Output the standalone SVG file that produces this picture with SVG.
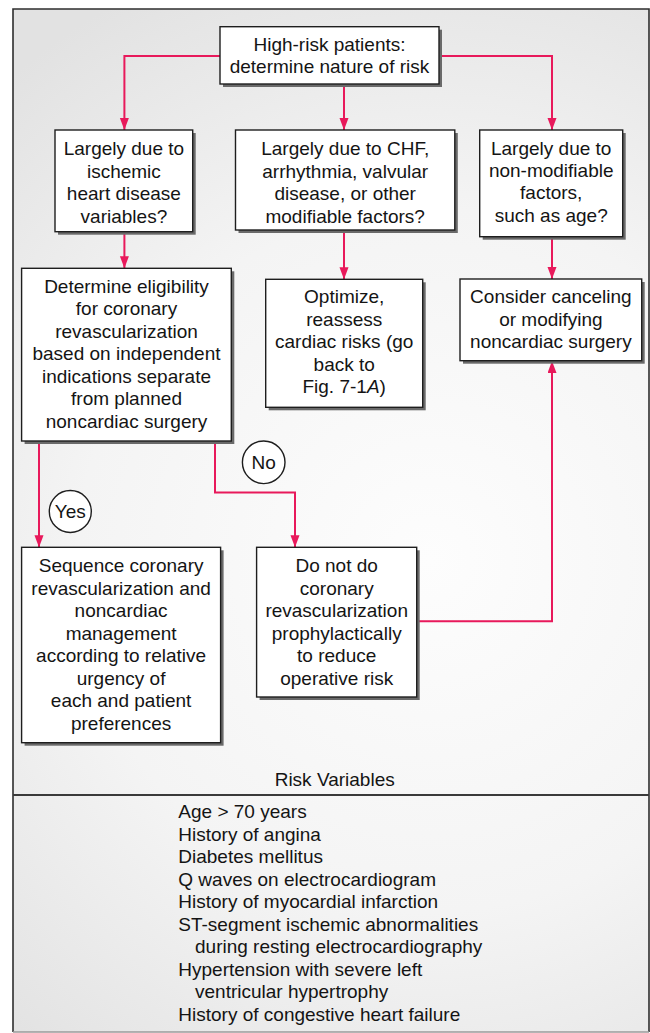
<svg xmlns="http://www.w3.org/2000/svg" width="650" height="1033" viewBox="0 0 650 1033">
  <defs>
    <radialGradient id="bg" cx="430" cy="560" r="640" gradientUnits="userSpaceOnUse">
      <stop offset="0" stop-color="#fdfdfd"/>
      <stop offset="0.55" stop-color="#f4f4f4"/>
      <stop offset="1" stop-color="#e2e2e2"/>
    </radialGradient>
    <marker id="arrow" markerWidth="12" markerHeight="10" refX="12" refY="4.5" orient="auto" markerUnits="userSpaceOnUse">
      <path d="M0,0 L12,4.5 L0,9 Z" fill="#e8195b"/>
    </marker>
    <style>
      .box { fill: #ffffff; stroke: #1e1e1e; stroke-width: 1.4; }
      .shadow { fill: #6a6a6a; }
      .conn { fill: none; stroke: #e8195b; stroke-width: 2; marker-end: url(#arrow); }
      .label { font-family: "Liberation Sans", Arial, sans-serif; font-size: 19px; fill: #141414; text-anchor: middle; }
      .list { font-family: "Liberation Sans", Arial, sans-serif; font-size: 19px; fill: #141414; }
      .badge { fill: #ffffff; stroke: #1e1e1e; stroke-width: 1.4; }
    </style>
  </defs>

  <!-- frame and background -->
  <rect x="13" y="9" width="636" height="1023" fill="url(#bg)"/>
  <path d="M13,1032 V9 H649 V1032" fill="none" stroke="#2e2e2e" stroke-width="1.6"/>
  <line x1="13" y1="1032" x2="649" y2="1032" stroke="#9a9a9a" stroke-width="1.5"/>
  <line x1="13" y1="795" x2="649" y2="795" stroke="#3a3a3a" stroke-width="2"/>

  <!-- connectors -->
  <g id="connectors">
    <path class="conn" d="M220,56 H124.4 V130"/>
    <path class="conn" d="M344,84 V130"/>
    <path class="conn" d="M439,56 H552 V130"/>
    <path class="conn" d="M124.4,231.7 V268.3"/>
    <path class="conn" d="M344,230 V279.3"/>
    <path class="conn" d="M552,236.7 V279"/>
    <path class="conn" d="M39,441 V547.3"/>
    <path class="conn" d="M215,441 V492.5 H295 V547.3"/>
    <path class="conn" d="M416.7,621.3 H552 V361"/>
  </g>

  <!-- start node -->
  <g id="n-start">
    <rect class="shadow" x="223" y="29.7" width="219" height="57.3"/>
    <rect class="box" x="220" y="26.7" width="219" height="57.3"/>
    <text class="label" x="329.5" y="50.7">High-risk patients:</text>
    <text class="label" x="329.5" y="73.3">determine nature of risk</text>
  </g>

  <g id="n-ischemic">
    <rect class="shadow" x="58" y="133" width="137.7" height="101.7"/>
    <rect class="box" x="55" y="130" width="137.7" height="101.7"/>
    <text class="label" x="123.9" y="155.3">Largely due to</text>
    <text class="label" x="123.9" y="177.7">ischemic</text>
    <text class="label" x="123.9" y="200.1">heart disease</text>
    <text class="label" x="123.9" y="222.5">variables?</text>
  </g>

  <g id="n-modifiable">
    <rect class="shadow" x="238.5" y="133" width="219.3" height="100"/>
    <rect class="box" x="235.5" y="130" width="219.3" height="100"/>
    <text class="label" x="345.2" y="155.3">Largely due to CHF,</text>
    <text class="label" x="345.2" y="177.7">arrhythmia, valvular</text>
    <text class="label" x="345.2" y="200.1">disease, or other</text>
    <text class="label" x="345.2" y="222.5">modifiable factors?</text>
  </g>

  <g id="n-nonmodifiable">
    <rect class="shadow" x="482.7" y="133" width="143" height="106.7"/>
    <rect class="box" x="479.7" y="130" width="143" height="106.7"/>
    <text class="label" x="551.2" y="154.5">Largely due to</text>
    <text class="label" x="551.2" y="176.9">non-modifiable</text>
    <text class="label" x="551.2" y="199.3">factors,</text>
    <text class="label" x="551.2" y="221.7">such as age?</text>
  </g>

  <g id="n-eligibility">
    <rect class="shadow" x="24.6" y="271.3" width="209.7" height="172.7"/>
    <rect class="box" x="21.6" y="268.3" width="209.7" height="172.7"/>
    <text class="label" x="126.5" y="292.5">Determine eligibility</text>
    <text class="label" x="126.5" y="315">for coronary</text>
    <text class="label" x="126.5" y="337.5">revascularization</text>
    <text class="label" x="126.5" y="360">based on independent</text>
    <text class="label" x="126.5" y="382.5">indications separate</text>
    <text class="label" x="126.5" y="405">from planned</text>
    <text class="label" x="126.5" y="427.5">noncardiac surgery</text>
  </g>

  <g id="n-optimize">
    <rect class="shadow" x="268.7" y="282.3" width="157" height="128"/>
    <rect class="box" x="265.7" y="279.3" width="157" height="128"/>
    <text class="label" x="344.2" y="303.3">Optimize,</text>
    <text class="label" x="344.2" y="325.7">reassess</text>
    <text class="label" x="344.2" y="348.2">cardiac risks (go</text>
    <text class="label" x="344.2" y="370.6">back to</text>
    <text class="label" x="344.2" y="393">Fig. 7-1<tspan font-style="italic">A</tspan>)</text>
  </g>

  <g id="n-cancel">
    <rect class="shadow" x="463" y="282" width="181.7" height="81.7"/>
    <rect class="box" x="460" y="279" width="181.7" height="81.7"/>
    <text class="label" x="550.9" y="303.3">Consider canceling</text>
    <text class="label" x="550.9" y="325.7">or modifying</text>
    <text class="label" x="550.9" y="348.2">noncardiac surgery</text>
  </g>

  <g id="n-sequence">
    <rect class="shadow" x="24.6" y="550.3" width="199" height="195.4"/>
    <rect class="box" x="21.6" y="547.3" width="199" height="195.4"/>
    <text class="label" x="121.1" y="572">Sequence coronary</text>
    <text class="label" x="121.1" y="594.5">revascularization and</text>
    <text class="label" x="121.1" y="617">noncardiac</text>
    <text class="label" x="121.1" y="639.5">management</text>
    <text class="label" x="121.1" y="662">according to relative</text>
    <text class="label" x="121.1" y="684.5">urgency of</text>
    <text class="label" x="121.1" y="707">each and patient</text>
    <text class="label" x="121.1" y="729.5">preferences</text>
  </g>

  <g id="n-donot">
    <rect class="shadow" x="259.6" y="550.3" width="160.1" height="149.7"/>
    <rect class="box" x="256.6" y="547.3" width="160.1" height="149.7"/>
    <text class="label" x="336.7" y="572">Do not do</text>
    <text class="label" x="336.7" y="594.5">coronary</text>
    <text class="label" x="336.7" y="617">revascularization</text>
    <text class="label" x="336.7" y="639.5">prophylactically</text>
    <text class="label" x="336.7" y="662">to reduce</text>
    <text class="label" x="336.7" y="684.5">operative risk</text>
  </g>

  <!-- branch badges -->
  <g id="badge-no">
    <circle class="badge" cx="263.7" cy="462.3" r="21.3"/>
    <text class="label" x="263.7" y="469">No</text>
  </g>
  <g id="badge-yes">
    <circle class="badge" cx="70.3" cy="511.5" r="21"/>
    <text class="label" x="70.3" y="518.2">Yes</text>
  </g>

  <!-- risk variable table -->
  <g id="risk-variables">
    <text class="label" x="334.7" y="785.7">Risk Variables</text>
    <text class="list" x="178.3" y="818.3">Age &gt; 70 years</text>
    <text class="list" x="178.3" y="840.8">History of angina</text>
    <text class="list" x="178.3" y="863.3">Diabetes mellitus</text>
    <text class="list" x="178.3" y="885.8">Q waves on electrocardiogram</text>
    <text class="list" x="178.3" y="908.3">History of myocardial infarction</text>
    <text class="list" x="178.3" y="930.8">ST-segment ischemic abnormalities</text>
    <text class="list" x="195" y="953.3">during resting electrocardiography</text>
    <text class="list" x="178.3" y="975.8">Hypertension with severe left</text>
    <text class="list" x="195" y="998.3">ventricular hypertrophy</text>
    <text class="list" x="178.3" y="1020.8">History of congestive heart failure</text>
  </g>
</svg>
